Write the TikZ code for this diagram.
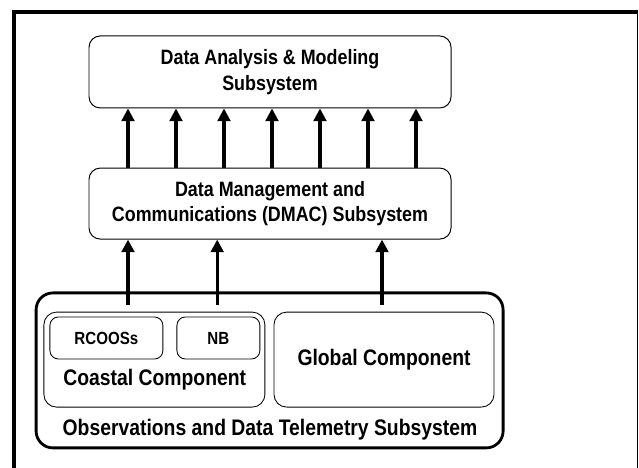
\documentclass[tikz,border=0pt]{standalone}
\usepackage{fontspec}
\setmainfont{Liberation Sans}[FakeStretch=0.86]
\usetikzlibrary{arrows.meta,positioning}

\begin{document}
\begin{tikzpicture}[
    font=\bfseries\fontsize{14.8}{18.4}\selectfont,
    >={Triangle[width=9pt,length=9pt]},
    sysbox/.style={draw, line width=0.7pt, rounded corners=8pt, align=center},
    outerbox/.style={draw, line width=2pt, rounded corners=12pt},
    compbox/.style={draw, line width=0.6pt, rounded corners=9pt, align=center},
    subbox/.style={draw, line width=0.6pt, rounded corners=6pt, font=\bfseries\fontsize{12.5}{14}\selectfont},
    biglbl/.style={font=\bfseries\fontsize{16}{18}\selectfont},
    flow/.style={->, line width=2.4pt}
]
    \useasboundingbox (0,0) rectangle (15.975,11.7);
    \draw[line width=2.8pt] (0.35,0) -- (0.35,11.4) -- (15.94,11.4);
    \draw[line width=0.7pt] (15.94,11.4) -- (15.94,0);

    \node[sysbox, minimum width=9.05cm, minimum height=1.8cm] (dam) at (6.75,9.9) {Data Analysis \& Modeling\\Subsystem};
    \node[sysbox, minimum width=9.05cm, minimum height=1.775cm] (dmac) at (6.75,6.61) {Data Management and\\Communications (DMAC) Subsystem};

    \node[outerbox, minimum width=11.675cm, minimum height=3.875cm] (obs) at (6.74,2.44) {};
    \node[biglbl] (obslbl) at (6.75,0.95) {Observations and Data Telemetry Subsystem};
    \node[compbox, minimum width=5.525cm, minimum height=2.375cm] (coastal) at (3.86,2.71) {};
    \node[biglbl] (coastallbl) at (3.87,2.22) {Coastal Component};
    \node[compbox, biglbl, minimum width=5.5cm, minimum height=2.375cm] (global) at (9.6,2.71) {Global Component};
    \node[subbox, minimum width=2.825cm, minimum height=1.05cm] (rcoos) at (2.66,3.25) {RCOOSs};
    \node[subbox, minimum width=2.075cm, minimum height=1.05cm] (nb) at (5.46,3.25) {NB};

    \foreach \x in {3.2,4.4,...,10.4}
        \draw[flow] (\x,0 |- dmac.north) -- (\x,0 |- dam.south);

    \coordinate (up1) at (3.2,4.08);
    \coordinate (up2) at (5.43,4.08);
    \coordinate (up3) at (9.55,4.08);
    \foreach \i in {1,2,3}
        \draw[flow] (up\i) -- (up\i |- dmac.south);
\end{tikzpicture}
\end{document}
